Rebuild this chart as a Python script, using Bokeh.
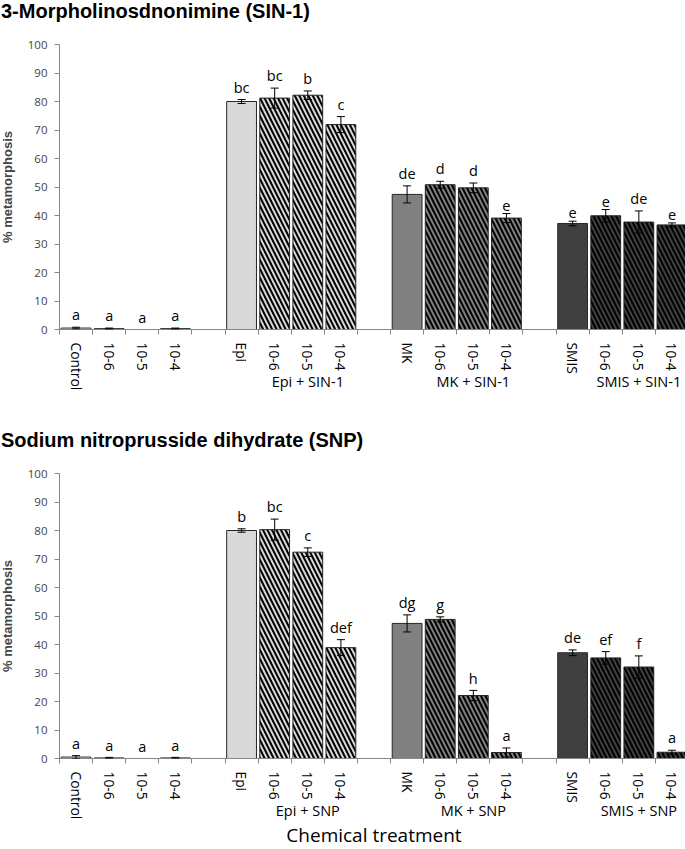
from bokeh.plotting import figure
from bokeh.models import Range1d, FixedTicker, LinearAxis, ColumnDataSource, Whisker, TeeHead, Div
from bokeh.layouts import column
from bokeh.embed import file_html
from bokeh.resources import INLINE
from bokeh.core.properties import value

# ---- data ----
slot_index = [0, 1, 2, 3, 5, 6, 7, 8, 10, 11, 12, 13, 15, 16, 17, 18]
bar_labels = ["Control", "10-6", "10-5", "10-4",
              "Epi", "10-6", "10-5", "10-4",
              "MK", "10-6", "10-5", "10-4",
              "SMIS", "10-6", "10-5", "10-4"]
bar_fill = ["#ffffff"] * 4 + ["#d9d9d9"] * 4 + ["#808080"] * 4 + ["#404040"] * 4
bar_hatch = ["blank", "\\", "\\", "\\"] * 4

sin_values = [0.5, 0.3, 0.0, 0.3, 80.0, 81.2, 82.2, 71.9, 47.4, 50.8, 49.7, 39.1, 37.2, 39.9, 37.7, 36.7]
sin_errors = [0.3, 0.2, 0.0, 0.2, 0.7, 3.5, 1.5, 2.8, 3.0, 1.2, 1.7, 1.6, 0.8, 2.2, 3.9, 0.7]
sin_letters = ["a", "a", "a", "a", "bc", "bc", "b", "c", "de", "d", "d", "e", "e", "e", "de", "e"]
sin_groups = ["Epi + SIN-1", "MK + SIN-1", "SMIS + SIN-1"]

snp_values = [0.5, 0.2, 0.0, 0.2, 80.0, 80.3, 72.4, 38.9, 47.4, 48.8, 22.1, 2.1, 37.1, 35.3, 32.1, 2.2]
snp_errors = [0.5, 0.2, 0.0, 0.2, 0.6, 3.7, 1.5, 2.8, 3.0, 0.9, 1.8, 1.6, 1.0, 2.2, 3.9, 0.7]
snp_letters = ["a", "a", "a", "a", "b", "bc", "c", "def", "dg", "g", "h", "a", "de", "ef", "f", "a"]
snp_groups = ["Epi + SNP", "MK + SNP", "SMIS + SNP"]

group_slots = [7, 12, 17]
y_ticks = [0, 10, 20, 30, 40, 50, 60, 70, 80, 90, 100]

AX = "#868686"
SANS = "Open Sans"
ARIAL = "Liberation Sans"


def title_div(text, h):
    return Div(text=text, width=678, height=h, margin=(0, 0, 0, 0),
               styles={"font-family": "'Liberation Sans', Arial, sans-serif",
                       "font-weight": "bold", "font-size": "20px",
                       "line-height": f"{h}px", "color": "black",
                       "white-space": "nowrap", "padding-left": "5px"})


def make_fig(vals, errs, letters, groups, top_b, bot_b, xlabel=None):
    p = figure(frame_width=629, frame_height=285,
               x_range=Range1d(-0.5, 18.5), y_range=Range1d(0, 100),
               output_backend="svg", toolbar_location=None,
               min_border_left=55, min_border_right=0,
               min_border_top=top_b, min_border_bottom=bot_b,
               background_fill_color="white", border_fill_color="white")
    p.outline_line_color = None
    p.grid.visible = False

    src = ColumnDataSource(dict(x=slot_index, top=vals, fill=bar_fill, hatch=bar_hatch))
    p.vbar(x="x", top="top", width=0.9, bottom=0, source=src,
           fill_color="fill", line_color="#262626", line_width=1,
           hatch_pattern="hatch", hatch_color="black", hatch_weight=2, hatch_scale=9)

    ex = [x for x, e in zip(slot_index, errs) if e > 0]
    eu = [v + e for v, e in zip(vals, errs) if e > 0]
    el = [v - e for v, e in zip(vals, errs) if e > 0]
    esrc = ColumnDataSource(dict(x=ex, upper=eu, lower=el))
    w = Whisker(base="x", upper="upper", lower="lower", source=esrc, dimension="height",
                line_color="black", line_width=1, level="overlay",
                upper_head=TeeHead(size=8, line_color="black", line_width=1),
                lower_head=TeeHead(size=8, line_color="black", line_width=1))
    p.add_layout(w)

    ly = [v + e + 1.0 for v, e in zip(vals, errs)]
    p.text(x=slot_index, y=ly, text=letters, text_align="center", text_baseline="bottom",
           text_font=value(SANS), text_font_size="14.5px", text_color="black")

    xa = p.xaxis[0]
    xa.ticker = FixedTicker(ticks=slot_index, minor_ticks=[i - 0.5 for i in range(20)])
    xa.major_label_overrides = {s: l for s, l in zip(slot_index, bar_labels)}
    xa.major_label_orientation = "vertical"
    xa.major_label_text_font = SANS
    xa.major_label_text_font_size = "13.8px"
    xa.major_label_text_color = "black"
    xa.major_label_standoff = 8
    xa.major_tick_line_color = None
    xa.major_tick_out = 0
    xa.major_tick_in = 0
    xa.minor_tick_line_color = AX
    xa.minor_tick_out = 5
    xa.minor_tick_in = 0
    xa.axis_line_color = AX

    # group labels as a second, line-less axis stacked below
    ga = LinearAxis(ticker=FixedTicker(ticks=group_slots, minor_ticks=[]),
                    major_label_overrides={s: g for s, g in zip(group_slots, groups)})
    ga.axis_line_color = None
    ga.major_tick_line_color = None
    ga.minor_tick_line_color = None
    ga.major_tick_out = 0
    ga.major_tick_in = 0
    ga.major_label_orientation = "horizontal"
    ga.major_label_text_font = SANS
    ga.major_label_text_font_size = "14.5px"
    ga.major_label_text_color = "black"
    ga.major_label_standoff = -22
    if xlabel:
        ga.axis_label = xlabel
        ga.axis_label_text_font = SANS
        ga.axis_label_text_font_style = "normal"
        ga.axis_label_text_font_size = "19px"
        ga.axis_label_text_color = "black"
        ga.axis_label_standoff = -1
    p.add_layout(ga, "below")

    ya = p.yaxis[0]
    ya.ticker = FixedTicker(ticks=y_ticks)
    ya.axis_line_color = AX
    ya.major_tick_line_color = AX
    ya.major_tick_out = 5
    ya.major_tick_in = 0
    ya.minor_tick_line_color = None
    ya.major_label_text_font = SANS
    ya.major_label_text_font_size = "11.5px"
    ya.major_label_standoff = 7
    ya.axis_label = "% metamorphosis"
    ya.axis_label_text_font = ARIAL
    ya.axis_label_text_font_style = "bold"
    ya.axis_label_text_font_size = "13px"
    ya.axis_label_standoff = 10
    return p


d1 = title_div("3-Morpholinosdnonimine (SIN-1)", 30)
p1 = make_fig(sin_values, sin_errors, sin_letters, sin_groups, 18, 90)
d2 = title_div("Sodium nitroprusside dihydrate (SNP)", 42)
p2 = make_fig(snp_values, snp_errors, snp_letters, snp_groups, 12, 91, "Chemical treatment")

layout = column(d1, p1, d2, p2, margin=(-4, -4, -12, -4), spacing=0)
open("out.html", "w").write(file_html(layout, INLINE))
